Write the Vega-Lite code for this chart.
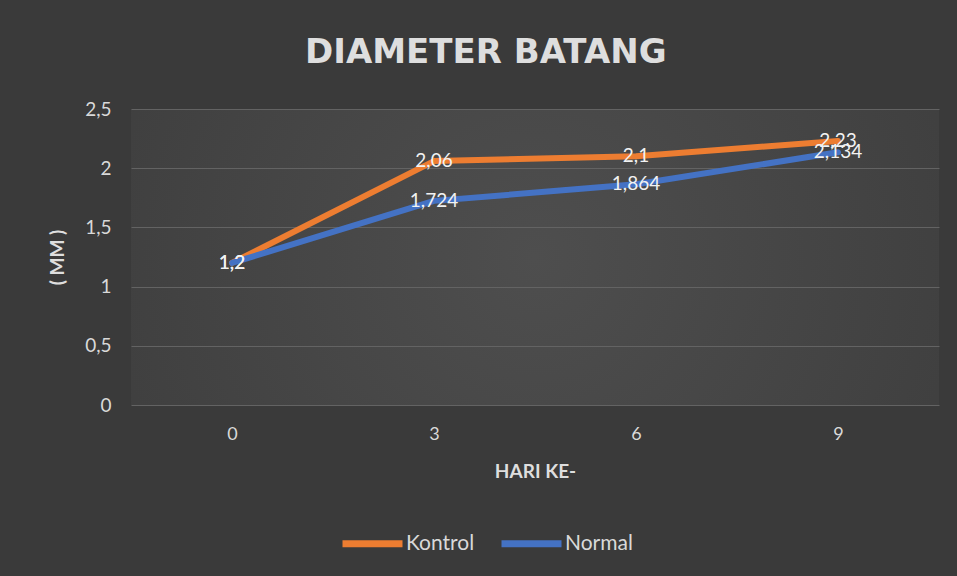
{
  "$schema": "https://vega.github.io/schema/vega-lite/v6.json",
  "width": 808,
  "height": 296,
  "autosize": {"type": "none"},
  "padding": {"left": 131, "top": 109, "right": 18, "bottom": 171},
  "background": "#3a3a3a",
  "config": {
    "locale": {"number": {"decimal": ",", "thousands": ".", "grouping": [3], "currency": ["", ""]}},
    "font": "Lato",
    "view": {
      "stroke": null,
      "fill": {
        "gradient": "radial",
        "x1": 0.5, "y1": 0.5, "x2": 0.5, "y2": 0.5, "r1": 0, "r2": 0.75,
        "stops": [
          {"offset": 0, "color": "#4e4e4e"},
          {"offset": 1, "color": "#3a3a3a"}
        ]
      }
    }
  },
  "title": {
    "text": "DIAMETER BATANG",
    "font": "DejaVu Sans",
    "fontSize": 34,
    "fontWeight": "bold",
    "color": "#dedede",
    "anchor": "middle",
    "frame": "bounds",
    "offset": 30,
    "dx": -8
  },
  "data": {
    "values": [
      {"hari": 0, "mm": 1.2, "seri": "Kontrol"},
      {"hari": 3, "mm": 2.06, "seri": "Kontrol"},
      {"hari": 6, "mm": 2.1, "seri": "Kontrol"},
      {"hari": 9, "mm": 2.23, "seri": "Kontrol"},
      {"hari": 0, "mm": 1.2, "seri": "Normal"},
      {"hari": 3, "mm": 1.724, "seri": "Normal"},
      {"hari": 6, "mm": 1.864, "seri": "Normal"},
      {"hari": 9, "mm": 2.134, "seri": "Normal"}
    ]
  },
  "encoding": {
    "x": {
      "field": "hari",
      "type": "ordinal",
      "scale": {"type": "point", "padding": 0.5},
      "axis": {
        "title": "HARI KE-",
        "titleFont": "Lato",
        "titleFontSize": 19,
        "titleFontWeight": "bold",
        "titleColor": "#dedede",
        "titlePadding": 19,
        "labelColor": "#d9d9d9",
        "labelFontSize": 18,
        "labelAngle": 0,
        "labelPadding": 20,
        "ticks": false,
        "tickSize": 0,
        "domain": false,
        "grid": false
      }
    },
    "y": {
      "field": "mm",
      "type": "quantitative",
      "scale": {"domain": [0, 2.5]},
      "axis": {
        "title": "( MM )",
        "titleFont": "Lato",
        "titleFontSize": 19,
        "titleFontWeight": "bold",
        "titleColor": "#dedede",
        "titlePadding": 17,
        "values": [0, 0.5, 1, 1.5, 2, 2.5],
        "format": "~g",
        "labelColor": "#d9d9d9",
        "labelFontSize": 19,
        "labelPadding": 20,
        "ticks": false,
        "tickSize": 0,
        "domain": false,
        "grid": true,
        "gridColor": "#636363",
        "gridWidth": 1
      }
    }
  },
  "layer": [
    {
      "mark": {"type": "line", "strokeWidth": 6, "strokeCap": "round", "strokeJoin": "round"},
      "encoding": {
        "color": {
          "field": "seri",
          "type": "nominal",
          "scale": {"domain": ["Kontrol", "Normal"], "range": ["#ED7D31", "#4472C4"]},
          "legend": {
            "title": null,
            "orient": "none",
            "direction": "horizontal",
            "legendX": 208,
            "legendY": 401,
            "symbolType": "stroke",
            "symbolSize": 3600,
            "symbolStrokeWidth": 7,
            "labelColor": "#d9d9d9",
            "labelFontSize": 21,
            "labelFont": "Lato",
            "labelOffset": 0,
            "columnPadding": 12,
            "padding": 0
          }
        }
      }
    },
    {
      "mark": {"type": "text", "color": "#f2f2f2", "fontSize": 19, "font": "Lato", "baseline": "middle", "align": "center"},
      "encoding": {
        "text": {"field": "mm", "type": "quantitative", "format": "~g"}
      }
    }
  ]
}
